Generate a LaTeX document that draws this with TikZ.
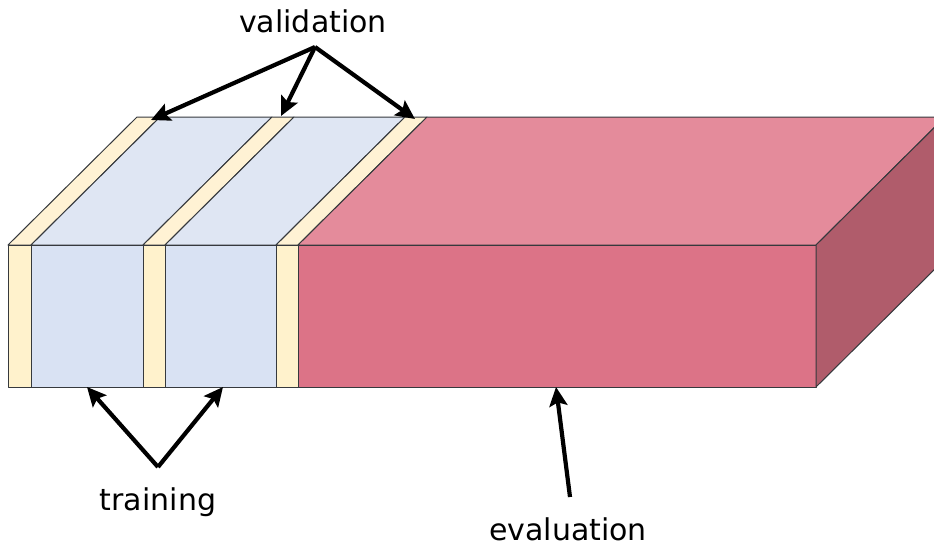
\documentclass[tikz,border=0pt]{standalone}
\usepackage{fontspec}
\setmainfont{DejaVu Sans}
\usetikzlibrary{arrows.meta}

\definecolor{edgegray}{HTML}{36393D}
\definecolor{valfront}{HTML}{FFF2CC}
\definecolor{valtop}{HTML}{FFF2D4}
\definecolor{trainfront}{HTML}{D9E2F3}
\definecolor{traintop}{HTML}{DFE6F3}
\definecolor{evalfront}{HTML}{DC7387}
\definecolor{evaltop}{HTML}{E48B9B}
\definecolor{evalside}{HTML}{B05C6B}

\begin{document}
\begin{tikzpicture}[x=1pt,y=-1pt,
    face/.style={draw=edgegray,line width=1pt,line join=round},
    pointer/.style={line width=4.2pt,-{Stealth[length=19pt,width=18pt,inset=3.5pt]}},
    lbl/.style={font=\fontsize{30}{36}\selectfont,inner sep=0pt,anchor=base}]
      \useasboundingbox (0,0) rectangle (934,546);
      \clip (0,0) rectangle (934,546);

      % front edge of the slab, top
      \coordinate (f0) at (8,245);
      \coordinate (f1) at (31,245);
      \coordinate (f2) at (143,245);
      \coordinate (f3) at (165,245);
      \coordinate (f4) at (276,245);
      \coordinate (f5) at (298,245);
      \coordinate (f6) at (816,245);
      % front edge, bottom
      \coordinate (g0) at (8,387);
      \coordinate (g1) at (31,387);
      \coordinate (g2) at (143,387);
      \coordinate (g3) at (165,387);
      \coordinate (g4) at (276,387);
      \coordinate (g5) at (298,387);
      \coordinate (g6) at (816,387);
      % back edge, top
      \coordinate (k0) at (137,117);
      \coordinate (k1) at (160,117);
      \coordinate (k2) at (272,117);
      \coordinate (k3) at (294,117);
      \coordinate (k4) at (405,117);
      \coordinate (k5) at (427,117);
      \coordinate (k6) at (945,117);
      \coordinate (s6) at (945,259);

      % top face
      \filldraw[face,fill=valtop] (f0)--(f1)--(k1)--(k0)--cycle;
      \filldraw[face,fill=traintop] (f1)--(f2)--(k2)--(k1)--cycle;
      \filldraw[face,fill=valtop] (f2)--(f3)--(k3)--(k2)--cycle;
      \filldraw[face,fill=traintop] (f3)--(f4)--(k4)--(k3)--cycle;
      \filldraw[face,fill=valtop] (f4)--(f5)--(k5)--(k4)--cycle;
      \filldraw[face,fill=evaltop] (f5)--(f6)--(k6)--(k5)--cycle;

      % front face
      \filldraw[face,fill=valfront] (f0) rectangle (g1);
      \filldraw[face,fill=trainfront] (f1) rectangle (g2);
      \filldraw[face,fill=valfront] (f2) rectangle (g3);
      \filldraw[face,fill=trainfront] (f3) rectangle (g4);
      \filldraw[face,fill=valfront] (f4) rectangle (g5);
      \filldraw[face,fill=evalfront] (f5) rectangle (g6);

      % side face
      \filldraw[face,fill=evalside] (f6)--(k6)--(s6)--(g6)--cycle;

      % labels
      \node[lbl] (val) at (313,32) {validation};
      \node[lbl] (train) at (158,510) {training};
      \node[lbl] (eval) at (568,540) {evaluation};

      \coordinate (valsrc) at (315,47);
      \coordinate (val1) at (151,120);
      \coordinate (val2) at (281,116);
      \coordinate (val3) at (415,119);
      \coordinate (trainsrc) at (158,467);
      \coordinate (train1) at (87,387);
      \coordinate (train2) at (223,387);
      \coordinate (evalsrc) at (570,497);
      \coordinate (eval1) at (556,387);

      \draw[pointer] (valsrc)--(val1);
      \draw[pointer] (valsrc)--(val2);
      \draw[pointer] (valsrc)--(val3);
      \draw[pointer] (trainsrc)--(train1);
      \draw[pointer] (trainsrc)--(train2);
      \draw[pointer] (evalsrc)--(eval1);
    \end{tikzpicture}
\end{document}
